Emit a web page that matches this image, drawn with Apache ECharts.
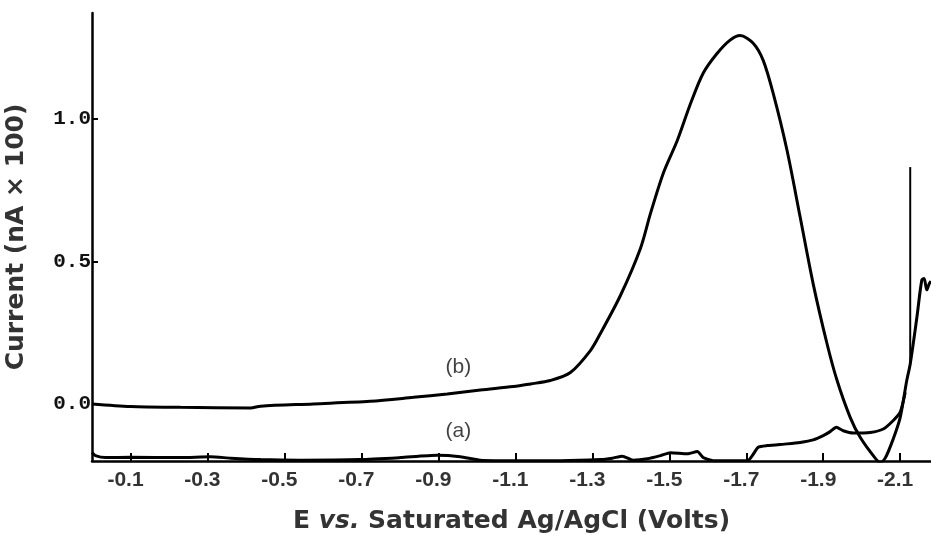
<!DOCTYPE html>
<html>
<head>
<meta charset="utf-8">
<script src="https://cdn.jsdelivr.net/npm/echarts@6/dist/echarts.min.js"></script>
<style>
html,body{margin:0;padding:0;background:#fff;}
#chart{width:931px;height:535px;}
</style>
</head>
<body>
<div id="chart"></div>
<script>
// Tick labels
var xTicks = [-0.1, -0.3, -0.5, -0.7, -0.9, -1.1, -1.3, -1.5, -1.7, -1.9, -2.1];
var yTicks = [0.0, 0.5, 1.0];

// Curve (b): [E (V), current]
var curveB = [
  [0, 0.0], [-0.1, -0.009], [-0.23, -0.012], [-0.412, -0.014], [-0.438, -0.008],
  [-0.575, 0.0], [-0.723, 0.009], [-0.835, 0.023], [-0.923, 0.035], [-1.009, 0.049],
  [-1.095, 0.061], [-1.139, 0.07], [-1.191, 0.082], [-1.243, 0.11], [-1.295, 0.187],
  [-1.321, 0.247], [-1.373, 0.38], [-1.425, 0.545], [-1.451, 0.667], [-1.484, 0.807],
  [-1.521, 0.924], [-1.555, 1.052], [-1.588, 1.159], [-1.624, 1.228], [-1.658, 1.275],
  [-1.684, 1.291], [-1.718, 1.264], [-1.744, 1.204], [-1.770, 1.088], [-1.806, 0.888],
  [-1.84, 0.655], [-1.874, 0.42], [-1.91, 0.21], [-1.936, 0.082],
  [-1.97, -0.047], [-1.996, -0.117], [-2.035, -0.19], [-2.048, -0.205], [-2.061, -0.19],
  [-2.082, -0.122], [-2.1, -0.047], [-2.117, 0.082], [-2.126, 0.14], [-2.143, 0.30],
  [-2.156, 0.433], [-2.162, 0.44], [-2.169, 0.40], [-2.175, 0.42], [-2.18, 0.43]
];

// Curve (a): [E (V), current]
var curveA = [
  [0, -0.17], [-0.009, -0.181], [-0.035, -0.188], [-0.1, -0.187], [-0.23, -0.188],
  [-0.308, -0.185], [-0.36, -0.19], [-0.438, -0.195], [-0.542, -0.197], [-0.697, -0.195],
  [-0.801, -0.188], [-0.897, -0.18], [-0.957, -0.185], [-1.009, -0.197], [-1.113, -0.199],
  [-1.217, -0.199], [-1.321, -0.195], [-1.352, -0.19], [-1.378, -0.183], [-1.406, -0.197],
  [-1.443, -0.192], [-1.477, -0.181], [-1.503, -0.171], [-1.547, -0.175], [-1.573, -0.167],
  [-1.588, -0.188], [-1.614, -0.199], [-1.703, -0.199], [-1.731, -0.152], [-1.755, -0.146],
  [-1.806, -0.14], [-1.84, -0.135], [-1.874, -0.126], [-1.9, -0.111], [-1.918, -0.097],
  [-1.934, -0.082], [-1.952, -0.094], [-1.978, -0.102], [-2.022, -0.1], [-2.056, -0.088],
  [-2.082, -0.058], [-2.1, -0.029], [-2.113, 0.04]
];

// Vertical marker line
var markerLine = [[-2.126, 0.14], [-2.126, 0.83]];

// Curve annotations
var annotations = [
  { name: '(b)', value: [-0.952, 0.127] },
  { name: '(a)', value: [-0.952, -0.094] }
];

var chart = echarts.init(document.getElementById('chart'), null, { renderer: 'canvas' });
var option = {
  animation: false,
  backgroundColor: '#ffffff',
  grid: { left: 92, right: 0, top: 13, bottom: 74, containLabel: false, outerBoundsMode: 'none' },
  xAxis: {
    type: 'value',
    inverse: true,
    min: -2.18,
    max: 0,
    axisLine: { show: true, onZero: false, lineStyle: { color: '#000', width: 2.5 } },
    axisTick: { show: true, inside: true, length: 8, customValues: xTicks, lineStyle: { color: '#000', width: 2 } },
    axisLabel: {
      customValues: xTicks,
      formatter: function (v) { return v.toFixed(1); },
      fontFamily: 'Liberation Sans, Arial, sans-serif',
      fontWeight: 'bold',
      fontSize: 21,
      color: '#333',
      margin: 9,
      padding: [0, 10, 0, 0]
    },
    splitLine: { show: false },
    name: '{r|E }{i|vs.}{r| Saturated Ag/AgCl (Volts)}',
    nameLocation: 'middle',
    nameGap: 48,
    nameTextStyle: {
      rich: {
        r: { fontFamily: 'DejaVu Sans, sans-serif', fontWeight: 'bold', fontSize: 25, color: '#333' },
        i: { fontFamily: 'DejaVu Sans, sans-serif', fontWeight: 'bold', fontStyle: 'italic', fontSize: 25, color: '#333' }
      }
    }
  },
  yAxis: {
    type: 'value',
    min: -0.2,
    max: 1.37,
    axisLine: { show: true, onZero: false, lineStyle: { color: '#000', width: 2.5 } },
    axisTick: { show: true, inside: true, length: 6, customValues: yTicks, lineStyle: { color: '#000', width: 2 } },
    axisLabel: {
      customValues: yTicks,
      formatter: function (v) { return v.toFixed(1); },
      fontFamily: 'Liberation Mono, monospace',
      fontWeight: 'bold',
      fontSize: 21,
      color: '#111',
      margin: 1
    },
    splitLine: { show: false },
    name: 'Current (nA × 100)',
    nameLocation: 'middle',
    nameGap: 63,
    nameRotate: 90,
    nameTextStyle: { fontFamily: 'DejaVu Sans, sans-serif', fontWeight: 'bold', fontSize: 25, color: '#333' }
  },
  series: [
    {
      name: 'b', type: 'line', data: curveB, showSymbol: false, smooth: 0.3,
      lineStyle: { color: '#000', width: 3 }, clip: true
    },
    {
      name: 'a', type: 'line', data: curveA, showSymbol: false, smooth: 0.2,
      lineStyle: { color: '#000', width: 3 }, clip: true
    },
    {
      name: 'marker', type: 'line', data: markerLine, showSymbol: false,
      lineStyle: { color: '#000', width: 2 }
    },
    {
      name: 'labels', type: 'scatter', data: annotations, symbolSize: 1,
      itemStyle: { color: 'rgba(0,0,0,0)' },
      label: {
        show: true, position: 'inside',
        formatter: function (p) { return p.name; },
        fontFamily: 'Liberation Sans, Arial, sans-serif', fontSize: 21, color: '#111'
      }
    }
  ]
};
chart.setOption(option);
</script>
</body>
</html>
